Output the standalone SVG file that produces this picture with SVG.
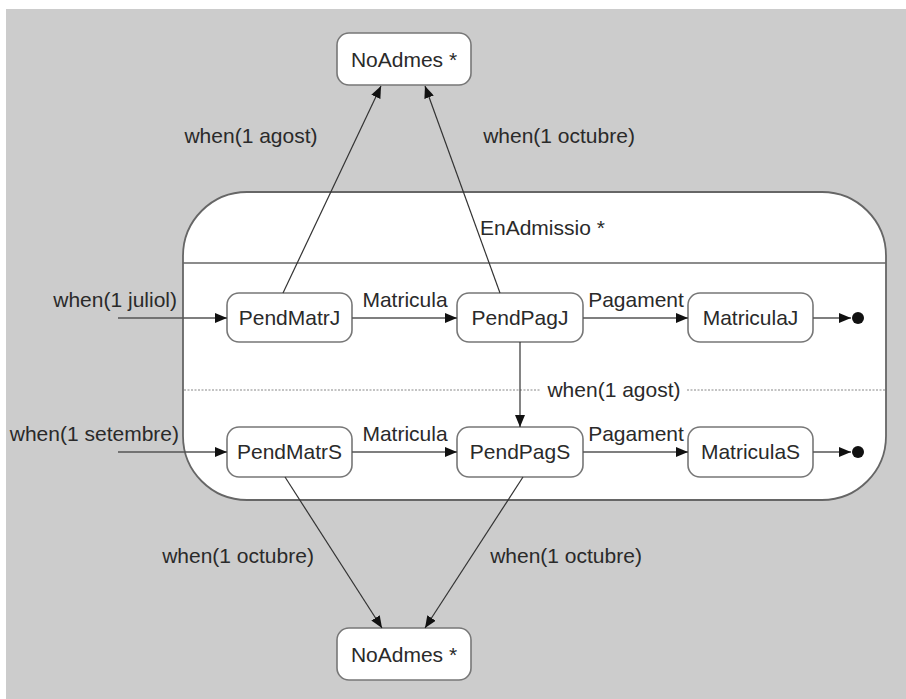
<svg xmlns="http://www.w3.org/2000/svg" width="906" height="699" viewBox="0 0 906 699">
<defs>
<style>
text{font-family:"Liberation Sans",Arial,sans-serif;font-size:21px;fill:#2a2a2a}
.c{text-anchor:middle}
.e{text-anchor:end}
.st{fill:#fff;stroke:#777;stroke-width:1.6}
.ln{fill:none;stroke:#333;stroke-width:1.2}
.hl{fill:none;stroke:#555;stroke-width:1.6}
</style>
<marker id="ah" viewBox="0 0 12 10" refX="12" refY="5" markerWidth="12" markerHeight="10" markerUnits="userSpaceOnUse" orient="auto">
<path d="M0,0 L12,5 L0,10 z" fill="#111"/>
</marker>
</defs>
<rect x="0" y="0" width="906" height="699" fill="#fff"/>
<rect x="6" y="9" width="900" height="690" fill="#cccccc"/>

<g id="EnAdmissio">
<rect x="183" y="192" width="703" height="308" rx="64" ry="64" fill="#fff" stroke="#666" stroke-width="1.8"/>
<line x1="183" y1="263" x2="886" y2="263" stroke="#666" stroke-width="1.5"/>
<line x1="184" y1="390" x2="540" y2="390" stroke="#888" stroke-width="1.2" stroke-dasharray="2 1.5"/>
<line x1="687" y1="390" x2="885" y2="390" stroke="#888" stroke-width="1.2" stroke-dasharray="2 1.5"/>
<text x="480" y="235">EnAdmissio *</text>
<text x="614" y="397" class="c">when(1 agost)</text>
</g>

<g id="NoAdmesTop">
<rect class="st" x="337" y="33" width="134" height="52" rx="12"/>
<text x="404" y="67" class="c">NoAdmes *</text>
</g>
<g id="NoAdmesBottom">
<rect class="st" x="337" y="628" width="134" height="52" rx="12"/>
<text x="404" y="662" class="c">NoAdmes *</text>
</g>

<g id="PendMatrJ">
<rect class="st" x="227" y="293" width="125" height="49" rx="12"/>
<text x="289.5" y="325" class="c">PendMatrJ</text>
</g>
<g id="PendPagJ">
<rect class="st" x="457" y="293" width="126" height="49" rx="12"/>
<text x="520" y="325" class="c">PendPagJ</text>
</g>
<g id="MatriculaJ">
<rect class="st" x="688" y="293" width="125" height="49" rx="12"/>
<text x="750.5" y="325" class="c">MatriculaJ</text>
</g>
<g id="FinalJ">
<circle cx="858" cy="318" r="6" fill="#111"/>
</g>

<g id="PendMatrS">
<rect class="st" x="227" y="427" width="125" height="50" rx="12"/>
<text x="289.5" y="459" class="c">PendMatrS</text>
</g>
<g id="PendPagS">
<rect class="st" x="457" y="427" width="126" height="50" rx="12"/>
<text x="520" y="459" class="c">PendPagS</text>
</g>
<g id="MatriculaS">
<rect class="st" x="688" y="427" width="125" height="50" rx="12"/>
<text x="750.5" y="459" class="c">MatriculaS</text>
</g>
<g id="FinalS">
<circle cx="858" cy="452" r="6" fill="#111"/>
</g>

<g id="connectors">
<line class="ln" x1="283" y1="293" x2="381" y2="86" marker-end="url(#ah)"/>
<line class="ln" x1="500" y1="293" x2="425" y2="86" marker-end="url(#ah)"/>
<line class="ln" x1="285" y1="477" x2="382" y2="628" marker-end="url(#ah)"/>
<line class="ln" x1="523" y1="477" x2="425" y2="628" marker-end="url(#ah)"/>
<line class="ln" x1="520" y1="342" x2="520" y2="427" marker-end="url(#ah)"/>

<line class="hl" x1="118" y1="318" x2="227" y2="318" marker-end="url(#ah)"/>
<line class="hl" x1="352" y1="318" x2="457" y2="318" marker-end="url(#ah)"/>
<line class="hl" x1="583" y1="318" x2="688" y2="318" marker-end="url(#ah)"/>
<line class="hl" x1="813" y1="318" x2="851" y2="318" marker-end="url(#ah)"/>

<line class="hl" x1="118" y1="452" x2="227" y2="452" marker-end="url(#ah)"/>
<line class="hl" x1="352" y1="452" x2="457" y2="452" marker-end="url(#ah)"/>
<line class="hl" x1="583" y1="452" x2="688" y2="452" marker-end="url(#ah)"/>
<line class="hl" x1="813" y1="452" x2="851" y2="452" marker-end="url(#ah)"/>

<text x="251" y="143" class="c">when(1 agost)</text>
<text x="559" y="143" class="c">when(1 octubre)</text>
<text x="177" y="307" class="e">when(1 juliol)</text>
<text x="405" y="307" class="c">Matricula</text>
<text x="636" y="307" class="c">Pagament</text>
<text x="179" y="441" class="e">when(1 setembre)</text>
<text x="405" y="441" class="c">Matricula</text>
<text x="636" y="441" class="c">Pagament</text>
<text x="238" y="563" class="c">when(1 octubre)</text>
<text x="566" y="563" class="c">when(1 octubre)</text>
</g>
</svg>
